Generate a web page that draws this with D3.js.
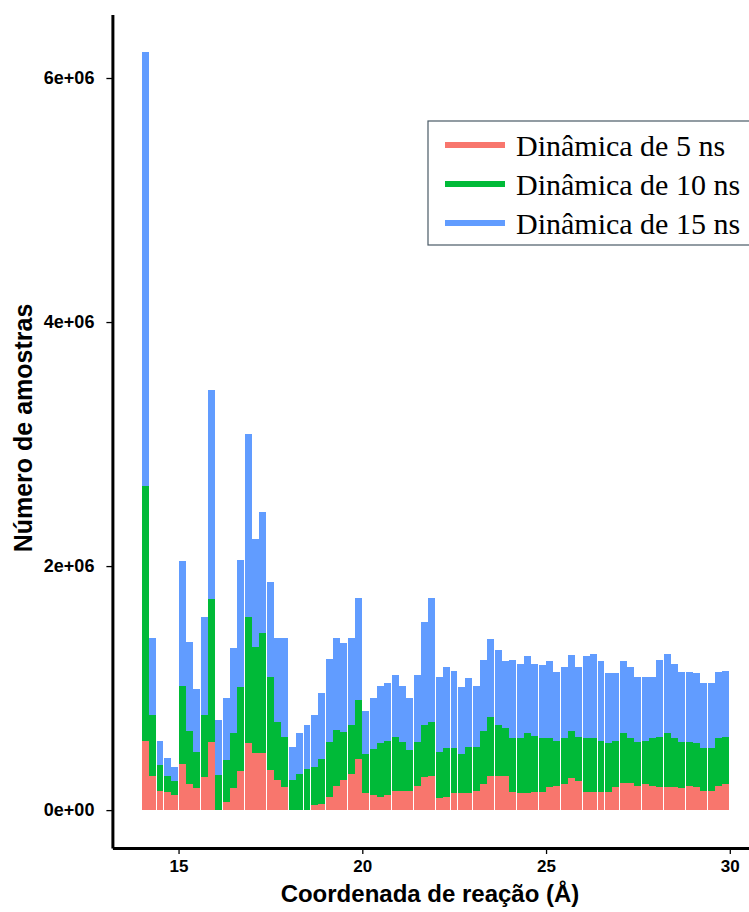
<!DOCTYPE html>
<html>
<head>
<meta charset="utf-8">
<script src="https://cdn.jsdelivr.net/npm/d3@7"></script>
<style>
  body { margin: 0; background: #fff; }
</style>
</head>
<body>
<svg id="chart" width="749" height="912"></svg>
<script>
// bin starts (Å), bin width 0.2
const binStarts = [
  14.0, 14.2, 14.4, 14.6, 14.8, 15.0, 15.2, 15.4, 15.6, 15.8,
  16.0, 16.2, 16.4, 16.6, 16.8, 17.0, 17.2, 17.4, 17.6, 17.8,
  18.0, 18.2, 18.4, 18.6, 18.8, 19.0, 19.2, 19.4, 19.6, 19.8,
  20.0, 20.2, 20.4, 20.6, 20.8, 21.0, 21.2, 21.4, 21.6, 21.8,
  22.0, 22.2, 22.4, 22.6, 22.8, 23.0, 23.2, 23.4, 23.6, 23.8,
  24.0, 24.2, 24.4, 24.6, 24.8, 25.0, 25.2, 25.4, 25.6, 25.8,
  26.0, 26.2, 26.4, 26.6, 26.8, 27.0, 27.2, 27.4, 27.6, 27.8,
  28.0, 28.2, 28.4, 28.6, 28.8, 29.0, 29.2, 29.4, 29.6, 29.8
];
const binWidth = 0.2;

// counts per bin for each simulation (stacked: 5 ns at the bottom)
const din5 = [
  570000, 280000, 160000, 150000, 120000, 380000, 210000, 180000, 270000, 560000,
  0, 70000, 180000, 320000, 550000, 470000, 470000, 330000, 250000, 190000,
  0, 0, 0, 40000, 50000, 110000, 200000, 250000, 300000, 420000,
  140000, 120000, 110000, 120000, 160000, 160000, 160000, 200000, 270000, 280000,
  100000, 110000, 140000, 140000, 140000, 160000, 210000, 280000, 280000, 280000,
  150000, 140000, 140000, 150000, 150000, 190000, 200000, 210000, 260000, 240000,
  150000, 150000, 150000, 150000, 190000, 220000, 220000, 200000, 210000, 200000,
  190000, 190000, 190000, 180000, 200000, 190000, 160000, 160000, 200000, 210000
];
const din10 = [
  2090000, 500000, 210000, 130000, 120000, 640000, 440000, 300000, 510000, 1170000,
  290000, 340000, 450000, 690000, 1030000, 870000, 980000, 760000, 470000, 410000,
  250000, 300000, 340000, 310000, 370000, 450000, 460000, 390000, 400000, 480000,
  320000, 380000, 440000, 450000, 440000, 400000, 330000, 360000, 430000, 440000,
  380000, 400000, 370000, 320000, 380000, 360000, 440000, 480000, 420000, 390000,
  440000, 450000, 490000, 460000, 440000, 400000, 370000, 380000, 390000, 360000,
  440000, 440000, 420000, 400000, 380000, 410000, 370000, 360000, 360000, 390000,
  410000, 440000, 400000, 380000, 360000, 360000, 350000, 350000, 390000, 390000
];
const din15 = [
  3550000, 630000, 200000, 150000, 115000, 1020000, 730000, 510000, 800000, 1710000,
  450000, 510000, 700000, 1040000, 1500000, 880000, 990000, 780000, 690000, 810000,
  270000, 330000, 360000, 430000, 540000, 680000, 750000, 730000, 710000, 840000,
  350000, 420000, 470000, 470000, 510000, 460000, 430000, 550000, 840000, 1020000,
  610000, 660000, 630000, 550000, 560000, 500000, 580000, 640000, 610000, 550000,
  640000, 610000, 630000, 590000, 600000, 630000, 560000, 580000, 620000, 570000,
  670000, 690000, 650000, 570000, 550000, 590000, 580000, 530000, 520000, 500000,
  630000, 650000, 610000, 570000, 570000, 570000, 530000, 530000, 540000, 540000
];

const seriesKeys = ["din5", "din10", "din15"];
const seriesLabels = ["Dinâmica de 5 ns", "Dinâmica de 10 ns", "Dinâmica de 15 ns"];
const seriesColors = ["#F8766D", "#00BA38", "#619CFF"];

const xTicks = [15, 20, 25, 30];
const yTicks = [0, 2e6, 4e6, 6e6];

const rows = binStarts.map((b, i) => ({
  x0: b, din5: din5[i], din10: din10[i], din15: din15[i]
}));

const stacked = d3.stack().keys(seriesKeys)(rows);

const svg = d3.select("#chart");

// ggplot-like 5% expansion on both axes
const xMin = binStarts[0], xMax = binStarts[binStarts.length - 1] + binWidth;
const xPad = (xMax - xMin) * 0.05;
const x = d3.scaleLinear()
  .domain([xMin - xPad, xMax + xPad])
  .range([112.4, 759.2]);

const yMax = d3.max(stacked[stacked.length - 1], d => d[1]);
const yPad = yMax * 0.05;
const y = d3.scaleLinear()
  .domain([-yPad, yMax + yPad])
  .range([848, 14.5]);

// bars
const barW = x(binWidth) - x(0) - 0.36; // tiny gap so edges round like the original
svg.append("g")
  .selectAll("g")
  .data(stacked)
  .join("g")
    .attr("fill", (d, i) => seriesColors[i])
  .selectAll("rect")
  .data(d => d)
  .join("rect")
    .attr("shape-rendering", "crispEdges")
    .attr("x", d => x(d.data.x0))
    .attr("width", barW)
    .attr("y", d => y(d[1]))
    .attr("height", d => y(d[0]) - y(d[1]));

const expFormat = v => v.toExponential(0).replace(/e([+-])(\d)$/, "e$10$2");

// y axis
const yAxis = svg.append("g")
  .attr("transform", `translate(${x.range()[0]},0)`)
  .call(d3.axisLeft(y).tickValues(yTicks).tickFormat(expFormat).tickSize(6).tickSizeOuter(0).tickPadding(12));
yAxis.select(".domain").attr("stroke", "#000").attr("stroke-width", 3);
yAxis.selectAll(".tick line").attr("stroke", "#000").attr("stroke-width", 1.3);
yAxis.selectAll(".tick text")
  .attr("fill", "#000")
  .style("font-family", "'Liberation Sans', Arial, sans-serif")
  .style("font-weight", "bold")
  .style("font-size", "18px");

// x axis
const xAxis = svg.append("g")
  .attr("transform", `translate(0,${y.range()[0]})`)
  .call(d3.axisBottom(x).tickValues(xTicks).tickSize(6).tickSizeOuter(0).tickPadding(6));
xAxis.select(".domain").attr("stroke", "#000").attr("stroke-width", 3);
xAxis.selectAll(".tick line").attr("stroke", "#000").attr("stroke-width", 1.3);
xAxis.selectAll(".tick text")
  .attr("fill", "#000")
  .style("font-family", "'Liberation Sans', Arial, sans-serif")
  .style("font-weight", "bold")
  .style("font-size", "17px");

// axis titles
svg.append("text")
  .attr("x", 430)
  .attr("y", 902)
  .attr("text-anchor", "middle")
  .style("font-family", "'Liberation Sans', Arial, sans-serif")
  .style("font-weight", "bold")
  .style("font-size", "24px")
  .text("Coordenada de reação (Å)");

svg.append("text")
  .attr("transform", "translate(32,428) rotate(-90)")
  .attr("text-anchor", "middle")
  .style("font-family", "'Liberation Sans', Arial, sans-serif")
  .style("font-weight", "bold")
  .style("font-size", "25px")
  .text("Número de amostras");

// legend (box runs off the right edge like the original)
const legend = svg.append("g").attr("transform", "translate(428,121)");
legend.append("rect")
  .attr("width", 340)
  .attr("height", 124)
  .attr("fill", "#fff")
  .attr("stroke", "#4a5a66")
  .attr("stroke-width", 1.2);

const item = legend.selectAll("g.item")
  .data(seriesLabels)
  .join("g")
    .attr("class", "item")
    .attr("transform", (d, i) => `translate(0,${24 + i * 39})`);
item.append("line")
  .attr("x1", 17).attr("x2", 77)
  .attr("stroke", (d, i) => seriesColors[i])
  .attr("stroke-width", 6);
item.append("text")
  .attr("x", 88)
  .attr("dy", "0.35em")
  .style("font-family", "'Liberation Serif', 'Times New Roman', serif")
  .style("font-size", "30px")
  .text(d => d);
</script>
</body>
</html>
